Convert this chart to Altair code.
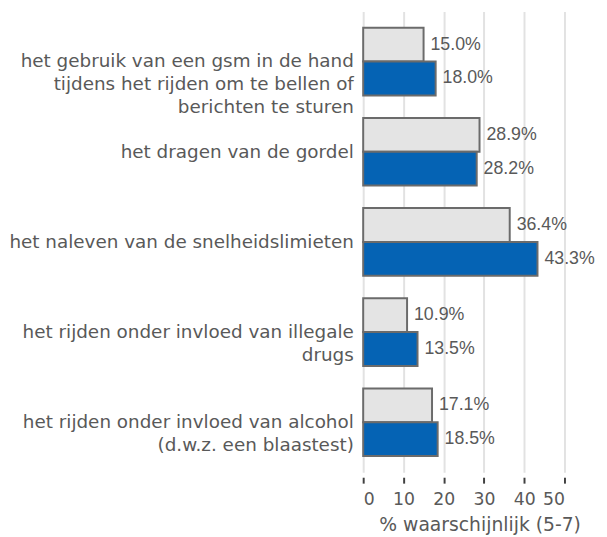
import altair as alt
import pandas as pd

categories = [
    "het gebruik van een gsm in de hand\u00a0|tijdens het rijden om te bellen of\u00a0|berichten te sturen",
    "het dragen van de gordel",
    "het naleven van de snelheidslimieten",
    "het rijden onder invloed van illegale\u00a0|drugs",
    "het rijden onder invloed van alcohol\u00a0|(d.w.z. een blaastest)",
]
series = ["vorige meting", "huidige meting"]
values_prev = [15.0, 28.9, 36.4, 10.9, 17.1]
values_curr = [18.0, 28.2, 43.3, 13.5, 18.5]
x_ticks = [0, 10, 20, 30, 40, 50]
colors = ["#e4e4e4", "#0563b4"]

rows = []
for c, a, b in zip(categories, values_prev, values_curr):
    rows.append({"cat": c, "serie": series[0], "val": a})
    rows.append({"cat": c, "serie": series[1], "val": b})
df = pd.DataFrame(rows)

font = "DejaVu Sans"
grey = "#595959"

base = alt.Chart(df).transform_calculate(
    lab="format(datum.val, '.1f') + '%'"
).encode(
    y=alt.Y(
        "cat:N",
        sort=categories,
        scale=alt.Scale(paddingInner=0.25, paddingOuter=0.18),
        axis=alt.Axis(
            title=None,
            labelExpr="split(datum.label, '|')",
            domain=False,
            ticks=False,
            labelFont=font,
            labelFontSize=18.6,
            labelColor=grey,
            labelPadding=10,
            labelLineHeight=23,
            labelLimit=400,
        ),
    ),
    yOffset=alt.YOffset(
        "serie:N", sort=series, scale=alt.Scale(paddingInner=0, paddingOuter=0)
    ),
)

bars = base.mark_bar(stroke="#6b6b6b", strokeWidth=2).encode(
    x=alt.X(
        "val:Q",
        scale=alt.Scale(domain=[0, 50], nice=False),
        axis=alt.Axis(
            values=x_ticks,
            offset=5,
            domain=False,
            ticks=True,
            tickColor="#404040",
            tickWidth=2,
            tickSize=6,
            grid=True,
            gridColor="#e2e2e2",
            gridWidth=2,
            labelFont=font,
            labelFontSize=17.5,
            labelColor=grey,
            labelPadding=8,
            title="% waarschijnlijk (5-7)",
            titleFont=font,
            titleFontWeight="normal",
            titleFontSize=19,
            titleColor=grey,
            titleX=118,
            titlePadding=7,
        ),
    ),
    color=alt.Color(
        "serie:N", sort=series, scale=alt.Scale(domain=series, range=colors), legend=None
    ),
)

texts = base.mark_text(
    align="left", baseline="middle", dx=7, font="Liberation Sans", fontSize=18, color=grey
).encode(x="val:Q", text="lab:N")

chart = (
    (bars + texts)
    .properties(
        width=204,
        height=467,
        autosize="none",
        padding={"left": 360, "top": 0, "right": 35, "bottom": 62},
    )
    .configure_view(stroke=None)
)

chart.save("out.html", embed_options={"renderer": "svg", "actions": False})
